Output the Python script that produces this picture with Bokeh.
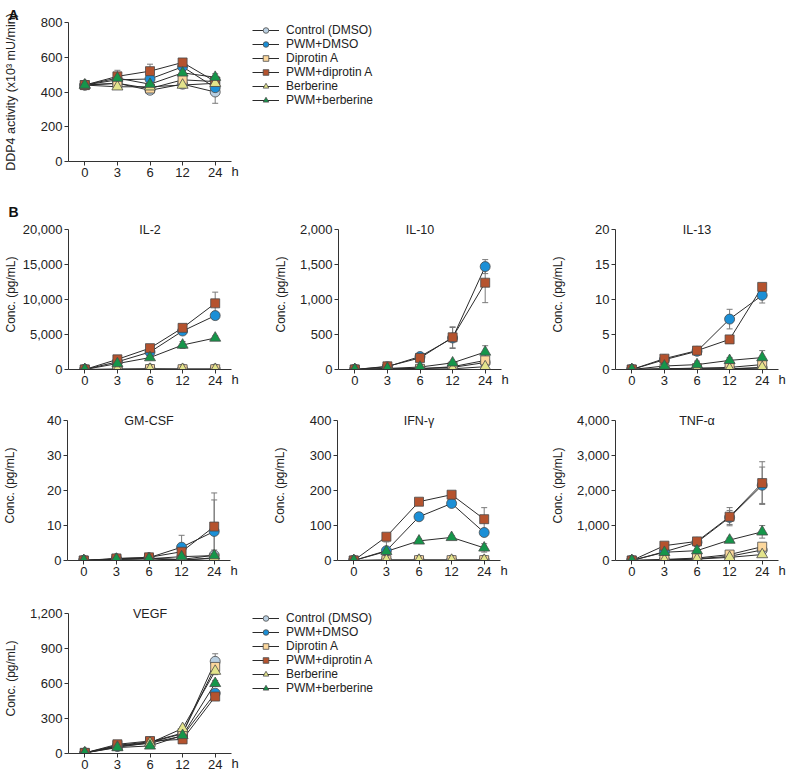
from bokeh.plotting import figure
from bokeh.models import (FactorRange, Range1d, FixedTicker, NumeralTickFormatter, Label,
                          Legend, LegendItem, Whisker, ColumnDataSource, TeeHead)
from bokeh.layouts import column, row
from bokeh.embed import file_html
from bokeh.resources import INLINE

FONT = "Liberation Sans"

# ---------------- data ----------------
TIMES = ["0", "3", "6", "12", "24"]
SERIES = ["Control (DMSO)", "PWM+DMSO", "Diprotin A", "PWM+diprotin A", "Berberine", "PWM+berberine"]
MARKERS = ["circle", "circle", "square", "square", "triangle", "triangle"]
COLORS = ["#b9cfe1", "#1b8fd6", "#fcd79c", "#b5532e", "#e3e48b", "#15964a"]
SIZES = [10, 10, 9, 9, 11, 11]

# Panel A: DDP4 activity (x10^3 mU/min); rows follow SERIES order
ddp4_values = [
    [440, 450, 410, 445, 400],
    [440, 470, 475, 545, 425],
    [440, 450, 420, 470, 460],
    [440, 490, 520, 570, 460],
    [440, 430, 430, 440, 450],
    [440, 480, 445, 510, 485],
]
ddp4_errors = [
    [10, 15, 12, 15, 65],
    [10, 20, 25, 20, 30],
    [10, 15, 10, 20, 20],
    [10, 35, 40, 15, 20],
    [10, 15, 10, 15, 15],
    [10, 20, 15, 20, 20],
]

il2_values = [
    [0, 50, 80, 60, 60],
    [0, 1100, 2500, 5500, 7700],
    [0, 30, 60, 40, 40],
    [0, 1450, 3050, 5950, 9450],
    [0, 20, 50, 30, 30],
    [0, 850, 1700, 3500, 4500],
]
il2_errors = [
    [0, 0, 0, 0, 0],
    [0, 150, 250, 400, 500],
    [0, 0, 0, 0, 0],
    [0, 150, 200, 300, 1600],
    [0, 0, 0, 0, 0],
    [0, 100, 300, 500, 300],
]

il10_values = [
    [0, 10, 15, 30, 100],
    [0, 40, 185, 450, 1470],
    [0, 5, 10, 40, 130],
    [0, 45, 165, 460, 1240],
    [0, 5, 5, 10, 40],
    [0, 15, 35, 95, 250],
]
il10_errors = [
    [0, 0, 0, 10, 20],
    [0, 10, 20, 150, 100],
    [0, 0, 0, 10, 30],
    [0, 10, 20, 150, 285],
    [0, 0, 0, 0, 0],
    [0, 5, 10, 20, 90],
]

il13_values = [
    [0, 0.1, 0.1, 0.1, 0.2],
    [0, 1.4, 2.6, 7.2, 10.6],
    [0, 0.1, 0.2, 0.3, 0.7],
    [0, 1.55, 2.7, 4.3, 11.8],
    [0, 0.05, 0.1, 0.1, 0.3],
    [0, 0.5, 0.7, 1.3, 1.7],
]
il13_errors = [
    [0, 0, 0, 0, 0],
    [0, 0.2, 0.3, 1.4, 1.1],
    [0, 0, 0, 0.1, 0.3],
    [0, 0.2, 0.3, 0.5, 0.5],
    [0, 0, 0, 0, 0],
    [0, 0.2, 0.5, 0.4, 1.0],
]

gmcsf_values = [
    [0, 0.4, 0.6, 0.3, 1.5],
    [0, 0.5, 0.8, 3.8, 8.3],
    [0, 0.4, 0.6, 0.2, 0.6],
    [0, 0.6, 0.9, 2.5, 9.7],
    [0, 0.3, 0.5, 0.0, 0.8],
    [0, 0.4, 0.5, 1.1, 1.4],
]
gmcsf_errors = [
    [0, 0.2, 0.2, 0.2, 1.5],
    [0, 0.2, 0.3, 3.4, 9.0],
    [0, 0, 0, 0, 0],
    [0, 0.2, 0.3, 1.5, 9.6],
    [0, 0, 0, 0, 0],
    [0, 0.2, 0.2, 0.5, 0.5],
]

ifng_values = [
    [0, 1, 1, 1, 1],
    [0, 28, 125, 163, 80],
    [0, 1, 1, 1, 1],
    [0, 68, 168, 188, 118],
    [0, 1, 1, 1, 1],
    [0, 26, 56, 66, 36],
]
ifng_errors = [
    [0, 0, 0, 0, 0],
    [0, 25, 5, 5, 10],
    [0, 0, 0, 0, 0],
    [0, 5, 5, 5, 33],
    [0, 0, 0, 0, 0],
    [0, 5, 5, 5, 12],
]

tnfa_values = [
    [0, 20, 50, 120, 300],
    [0, 250, 520, 1230, 2150],
    [0, 30, 70, 170, 395],
    [0, 424, 546, 1252, 2212],
    [0, 10, 40, 90, 170],
    [0, 235, 282, 584, 819],
]
tnfa_errors = [
    [0, 5, 10, 20, 40],
    [0, 50, 40, 200, 520],
    [0, 5, 10, 20, 40],
    [0, 40, 40, 260, 610],
    [0, 5, 10, 20, 30],
    [0, 40, 40, 60, 180],
]

vegf_values = [
    [5, 65, 95, 170, 790],
    [5, 60, 90, 150, 517],
    [5, 70, 100, 175, 742],
    [5, 79, 107, 121, 488],
    [5, 55, 90, 215, 706],
    [5, 51, 65, 155, 601],
]
vegf_errors = [
    [0, 10, 10, 15, 65],
    [0, 10, 10, 15, 20],
    [0, 10, 10, 15, 30],
    [0, 10, 10, 10, 20],
    [0, 10, 10, 15, 30],
    [0, 10, 10, 15, 25],
]

# ---------------- layout geometry ----------------
FW = 163
AXIS = "#333333"
TXT = "#222222"


def make_panel(values, errors, ymax, ystep, title, ylabel, left, right, top, axis_h, raise_px,
               bottom, ylabel_standoff, ylabel_size="12px", letter=None, letter_standoff=0):
    fh = axis_h + raise_px
    p = figure(x_range=FactorRange(factors=TIMES),
               y_range=Range1d(0, ymax * fh / axis_h),
               frame_width=FW, frame_height=fh,
               min_border_left=left, min_border_right=right,
               min_border_top=top, min_border_bottom=bottom,
               output_backend="svg", toolbar_location=None)
    p.outline_line_color = None
    p.grid.visible = False

    for ax in (p.xaxis[0], p.yaxis[0]):
        ax.axis_line_color = AXIS
        ax.axis_line_width = 1
        ax.major_tick_line_color = AXIS
        ax.major_tick_out = 4
        ax.major_tick_in = 0
        ax.minor_tick_line_color = None
        ax.major_label_text_font = FONT
        ax.major_label_text_font_size = "13px"
        ax.major_label_text_color = TXT
        ax.major_label_standoff = 2
    ya = p.yaxis[0]
    ya.ticker = FixedTicker(ticks=list(range(0, int(ymax) + 1, ystep)))
    ya.formatter = NumeralTickFormatter(format="0,0")
    ya.bounds = (0, ymax)
    ya.axis_label = ylabel
    ya.axis_label_text_font = FONT
    ya.axis_label_text_font_size = ylabel_size
    ya.axis_label_text_font_style = "normal"
    ya.axis_label_text_color = TXT
    ya.axis_label_standoff = ylabel_standoff

    # time unit "h" at the end of the x axis
    xa = p.xaxis[0]
    xa.axis_label = "\u00a0\u00a0h"
    xa.axis_label_align = "end"
    xa.axis_label_text_align = "left"
    xa.axis_label_text_font = FONT
    xa.axis_label_text_font_size = "13px"
    xa.axis_label_text_font_style = "normal"
    xa.axis_label_text_color = TXT
    xa.axis_label_standoff = -16

    # panel letter as the figure title
    if letter:
        p.title.text = letter
        p.title.align = "left"
        p.title.offset = -left
        p.title.standoff = letter_standoff
        p.title.text_font = FONT
        p.title.text_font_size = "14px"
        p.title.text_font_style = "bold"
        p.title.text_color = "#111111"

    # error bars
    for vals, errs in zip(values, errors):
        src = ColumnDataSource(dict(
            x=TIMES,
            upper=[v + e for v, e in zip(vals, errs)],
            lower=[v - e for v, e in zip(vals, errs)],
        ))
        w = Whisker(base="x", upper="upper", lower="lower", source=src, dimension="height",
                    line_color="#7a7a7a", line_width=1,
                    upper_head=TeeHead(size=6, line_color="#7a7a7a", line_width=1),
                    lower_head=TeeHead(size=6, line_color="#7a7a7a", line_width=1))
        w.level = "underlay"
        p.add_layout(w)

    # connecting lines
    lines = []
    for vals in values:
        lines.append(p.line(x=TIMES, y=vals, line_color="#2b2b2b", line_width=1))

    # markers
    marks = []
    for vals, mk, col, sz in zip(values, MARKERS, COLORS, SIZES):
        marks.append(p.scatter(x=TIMES, y=vals, marker=mk, size=sz, fill_color=col,
                               line_color="#4a4a4a", line_width=0.8))

    if title:
        p.add_layout(Label(x=2.5, y=ymax, text=title, text_align="center",
                           text_baseline="middle", text_font=FONT,
                           text_font_size="12.5px", text_color=TXT))
    return p, lines, marks


def add_legend(p, lines, marks, loc):
    items = [LegendItem(label=name, renderers=[rl, rs])
             for name, rl, rs in zip(SERIES, lines, marks)]
    leg = Legend(items=items, location=loc, margin=0, padding=0, spacing=0,
                 glyph_width=27, glyph_height=14, label_height=14, label_standoff=7,
                 label_text_font=FONT, label_text_font_size="12px",
                 label_text_color=TXT,
                 border_line_color=None, background_fill_alpha=0)
    p.add_layout(leg, "right")


CONC = "Conc. (pg/mL)"

# Row A
pA, lA, mA = make_panel(ddp4_values, ddp4_errors, 800, 200, None, "DDP4 activity (x10³ mU/min)",
                        60, 22, 22, 139, 0, 30, 20, ylabel_size="12.5px",
                        letter="A", letter_standoff=0)
add_legend(pA, lA, mA, (21, 54))

# Row 1
p_il2, _, _ = make_panel(il2_values, il2_errors, 20000, 5000, "IL-2", CONC,
                         60, 39, 28, 140, 10, 26, 2, letter="B", letter_standoff=0)
p_il10, _, _ = make_panel(il10_values, il10_errors, 2000, 500, "IL-10", CONC,
                          68, 47, 28, 140, 10, 26, 9)
p_il13, _, _ = make_panel(il13_values, il13_errors, 20, 5, "IL-13", CONC,
                          62, 12, 28, 140, 10, 26, 27)

# Row 2
p_gm, _, _ = make_panel(gmcsf_values, gmcsf_errors, 40, 10, "GM-CSF", CONC,
                        60, 39, 15, 140, 10, 26, 27)
p_ifn, _, _ = make_panel(ifng_values, ifng_errors, 400, 100, "IFN-γ", CONC,
                         68, 47, 15, 140, 10, 26, 20)
p_tnf, _, _ = make_panel(tnfa_values, tnfa_errors, 4000, 1000, "TNF-α", CONC,
                         62, 12, 15, 140, 10, 26, 9)

# Row 3
p_vegf, lV, mV = make_panel(vegf_values, vegf_errors, 1200, 300, "VEGF", CONC,
                            60, 22, 17, 140, 10, 21, 9)
add_legend(p_vegf, lV, mV, (21, 58))

layout = column(
    pA,
    row(p_il2, p_il10, p_il13),
    row(p_gm, p_ifn, p_tnf),
    p_vegf,
)

open("out.html", "w").write(file_html(layout, INLINE))
